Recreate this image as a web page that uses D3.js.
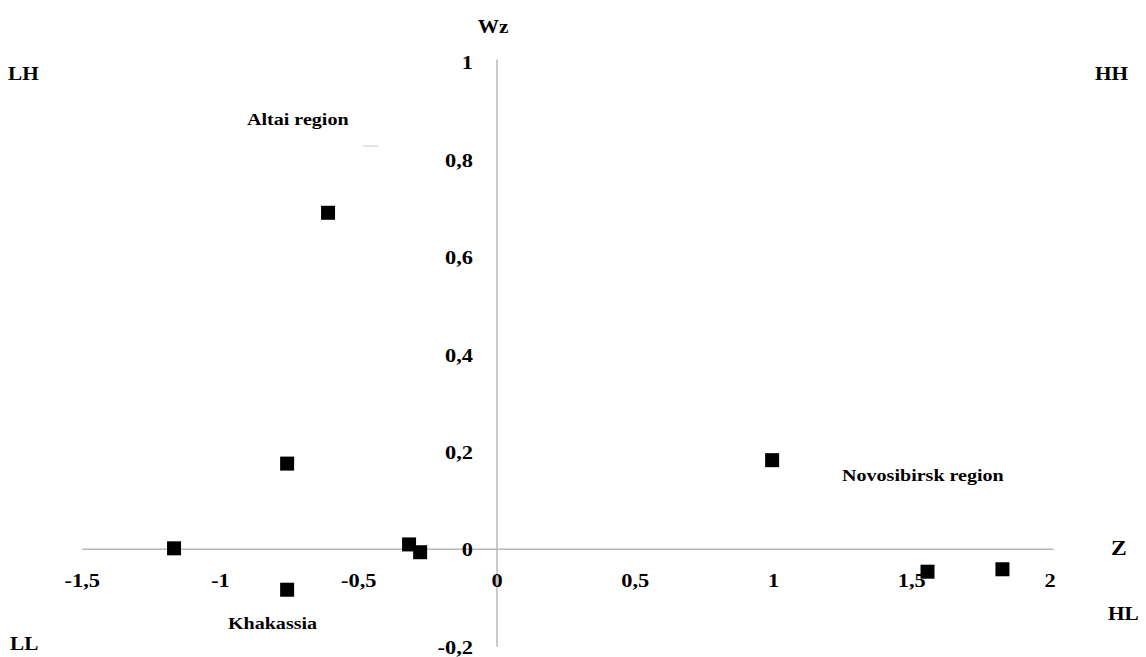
<!DOCTYPE html>
<html>
<head>
<meta charset="utf-8">
<script src="https://cdn.jsdelivr.net/npm/d3@7"></script>
<style>
  html, body { margin: 0; padding: 0; background: #fff; }
  svg { display: block; }
  text { font-family: "Liberation Serif", "Times New Roman", serif; font-weight: bold; fill: #000; }
</style>
</head>
<body>
<svg id="chart" width="1146" height="657"></svg>
<script>
// Moran scatter: standardised value Z vs. spatial lag Wz
const zValues  = [-0.611, -0.759, -1.168, -0.318, -0.278, -0.759, 0.995, 1.557, 1.828];
const wzValues = [ 0.691,  0.176,  0.002,  0.010, -0.006, -0.083, 0.183, -0.046, -0.041];

const xTicks = [-1.5, -1, -0.5, 0, 0.5, 1, 1.5, 2];
const yTicks = [-0.2, 0, 0.2, 0.4, 0.6, 0.8, 1];

// Region names, anchored in data space (left edge / baseline)
const regionNames = ["Altai region", "Novosibirsk region", "Khakassia"];
const regionZ     = [-0.904, 1.248, -0.973];
const regionWz    = [ 0.871, 0.140, -0.164];

// Quadrant labels
const quadrantNames = ["LH", "HH", "LL", "HL"];

const svg = d3.select("#chart");
const x = d3.scaleLinear().domain([-1.5, 2]).range([82.25, 1050]);
const y = d3.scaleLinear().domain([-0.2, 1]).range([646.7, 62.3]);

const fmt = v => String(v).replace(".", ",");
const SX = 1.18; // horizontal stretch of the lettering

function label(g, px, py, str, size, anchor) {
  g.append("text")
    .attr("transform", `translate(${px},${py}) scale(${SX},1)`)
    .attr("text-anchor", anchor || "start")
    .style("font-size", size + "px")
    .text(str);
}

// Axis lines crossing at the origin
const axisColor = "#b8b8b8";
svg.append("line")
  .attr("x1", x(-1.5)).attr("x2", x(2.013))
  .attr("y1", y(0)).attr("y2", y(0))
  .attr("stroke", axisColor).attr("stroke-width", 1.5);
svg.append("line")
  .attr("x1", x(0)).attr("x2", x(0))
  .attr("y1", y(1.006)).attr("y2", y(-0.2))
  .attr("stroke", axisColor).attr("stroke-width", 1.5);

// X tick labels below the horizontal axis
const gx = svg.append("g");
xTicks.forEach(t => label(gx, x(t), 587, fmt(t), 19, "middle"));

// Y tick labels left of the vertical axis
const gy = svg.append("g");
yTicks.forEach(t => label(gy, 473, y(t) + 7, fmt(t), 19, "end"));

// Axis titles
label(svg, 493, 33, "Wz", 18, "middle");
label(svg, 1111, 555, "Z", 20, "start");

// Quadrant labels in the corners
const gq = svg.append("g");
label(gq, 8, 80, quadrantNames[0], 18);
label(gq, 1095, 80, quadrantNames[1], 18);
label(gq, 10, 650, quadrantNames[2], 18);
label(gq, 1108, 620, quadrantNames[3], 18);

// Short leader stub next to the Altai label
svg.append("line")
  .attr("x1", x(-0.485)).attr("x2", x(-0.43))
  .attr("y1", y(0.828)).attr("y2", y(0.828))
  .attr("stroke", "#c8c8c8").attr("stroke-width", 1);

// Region labels
const gr = svg.append("g");
regionNames.forEach((n, i) => label(gr, x(regionZ[i]), y(regionWz[i]), n, 17));

// Square markers
const s = 14;
svg.append("g").selectAll("rect")
  .data(zValues.map((z, i) => ({ z, wz: wzValues[i] })))
  .join("rect")
  .attr("x", d => x(d.z) - s / 2)
  .attr("y", d => y(d.wz) - s / 2)
  .attr("width", s).attr("height", s)
  .attr("fill", "#000");
</script>
</body>
</html>
